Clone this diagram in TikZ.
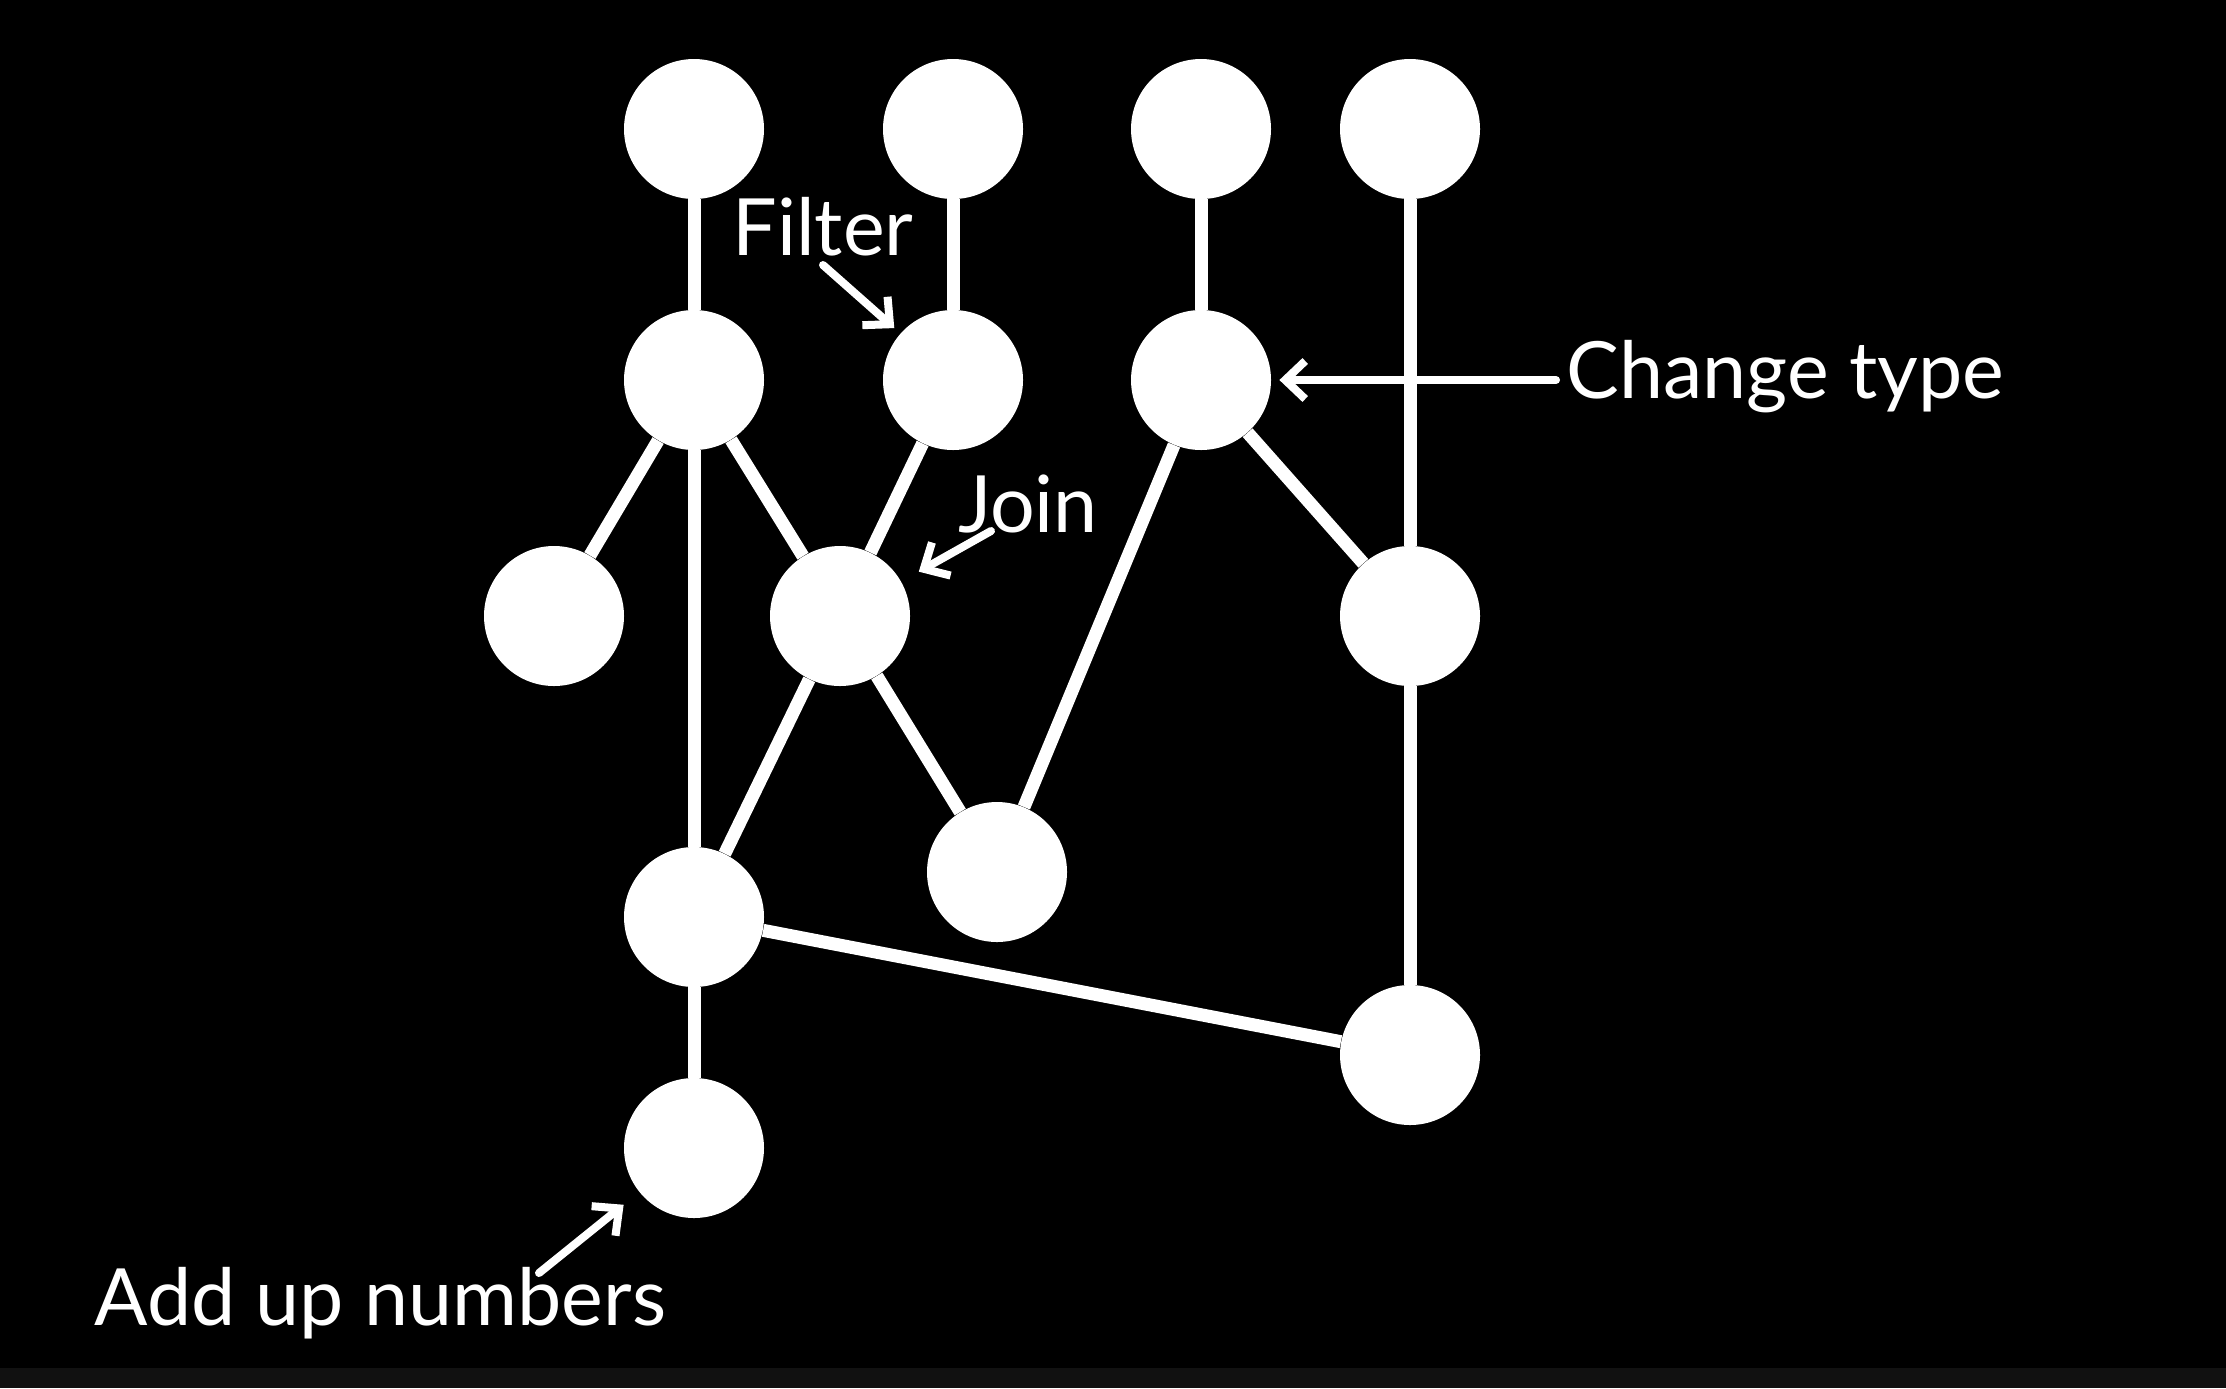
\documentclass[tikz,border=0pt]{standalone}
\usepackage{fontspec}
\setmainfont{Lato}
\usetikzlibrary{arrows.meta}
\definecolor{strip}{HTML}{111111}
\begin{document}
\begin{tikzpicture}[x=0.5pt,y=-0.5pt,
  dot/.style={circle,fill=white,draw=none,minimum size=70pt,inner sep=0pt},
  edge/.style={white,line width=6.5pt},
  lbl/.style={text=white,font=\fontsize{39.5}{47}\selectfont,inner sep=0pt},
  pointer/.style={white,line width=4pt,-{Straight Barb[length=10pt,width=19pt,line width=4pt]},line cap=round}]
\fill[black] (0,0) rectangle (2226,1368);
\fill[strip] (0,1368) rectangle (2226,1388);
\useasboundingbox (0,0) rectangle (2226,1388);
% nodes
\node[dot] (a1) at (694,129) {};
\node[dot] (b1) at (953,129) {};
\node[dot] (c1) at (1201,129) {};
\node[dot] (d1) at (1410,129) {};
\node[dot] (a2) at (694,380) {};
\node[dot] (b2) at (953,380) {};
\node[dot] (c2) at (1201,380) {};
\node[dot] (l3) at (554,616) {};
\node[dot] (m3) at (840,616) {};
\node[dot] (d3) at (1410,616) {};
\node[dot] (j4) at (997,872) {};
\node[dot] (a5) at (694,917) {};
\node[dot] (d5) at (1410,1055) {};
\node[dot] (a6) at (694,1148) {};
% edges
\draw[edge] (a1) -- (a2);
\draw[edge] (b1) -- (b2);
\draw[edge] (c1) -- (c2);
\draw[edge] (d1) -- (d3);
\draw[edge] (a2) -- (l3);
\draw[edge] (a2) -- (m3);
\draw[edge] (a2) -- (a5);
\draw[edge] (b2) -- (m3);
\draw[edge] (c2) -- (j4);
\draw[edge] (c2) -- (d3);
\draw[edge] (m3) -- (a5);
\draw[edge] (m3) -- (j4);
\draw[edge] (d3) -- (d5);
\draw[edge] (a5) -- (d5);
\draw[edge] (a5) -- (a6);
% labels
\node[lbl] (filter) at (823,227) {Filter};
\node[lbl] (join) at (1028,504) {Join};
\node[lbl,anchor=west] (change) at (1566,377) {Change type};
\node[lbl,anchor=west] (addup) at (94,1303) {Add up numbers};
\coordinate (fs) at (823,265);
\coordinate (js) at (991,531);
\coordinate (as) at (539,1273);
\draw[pointer,shorten >=4pt] (fs) -- (b2);
\draw[pointer,shorten >=10pt] (js) -- (m3);
\draw[pointer,shorten >=4pt,shorten <=5pt] (change.west |- c2) -- (c2);
\draw[pointer,shorten >=10pt] (as) -- (a6);
\end{tikzpicture}
\end{document}
